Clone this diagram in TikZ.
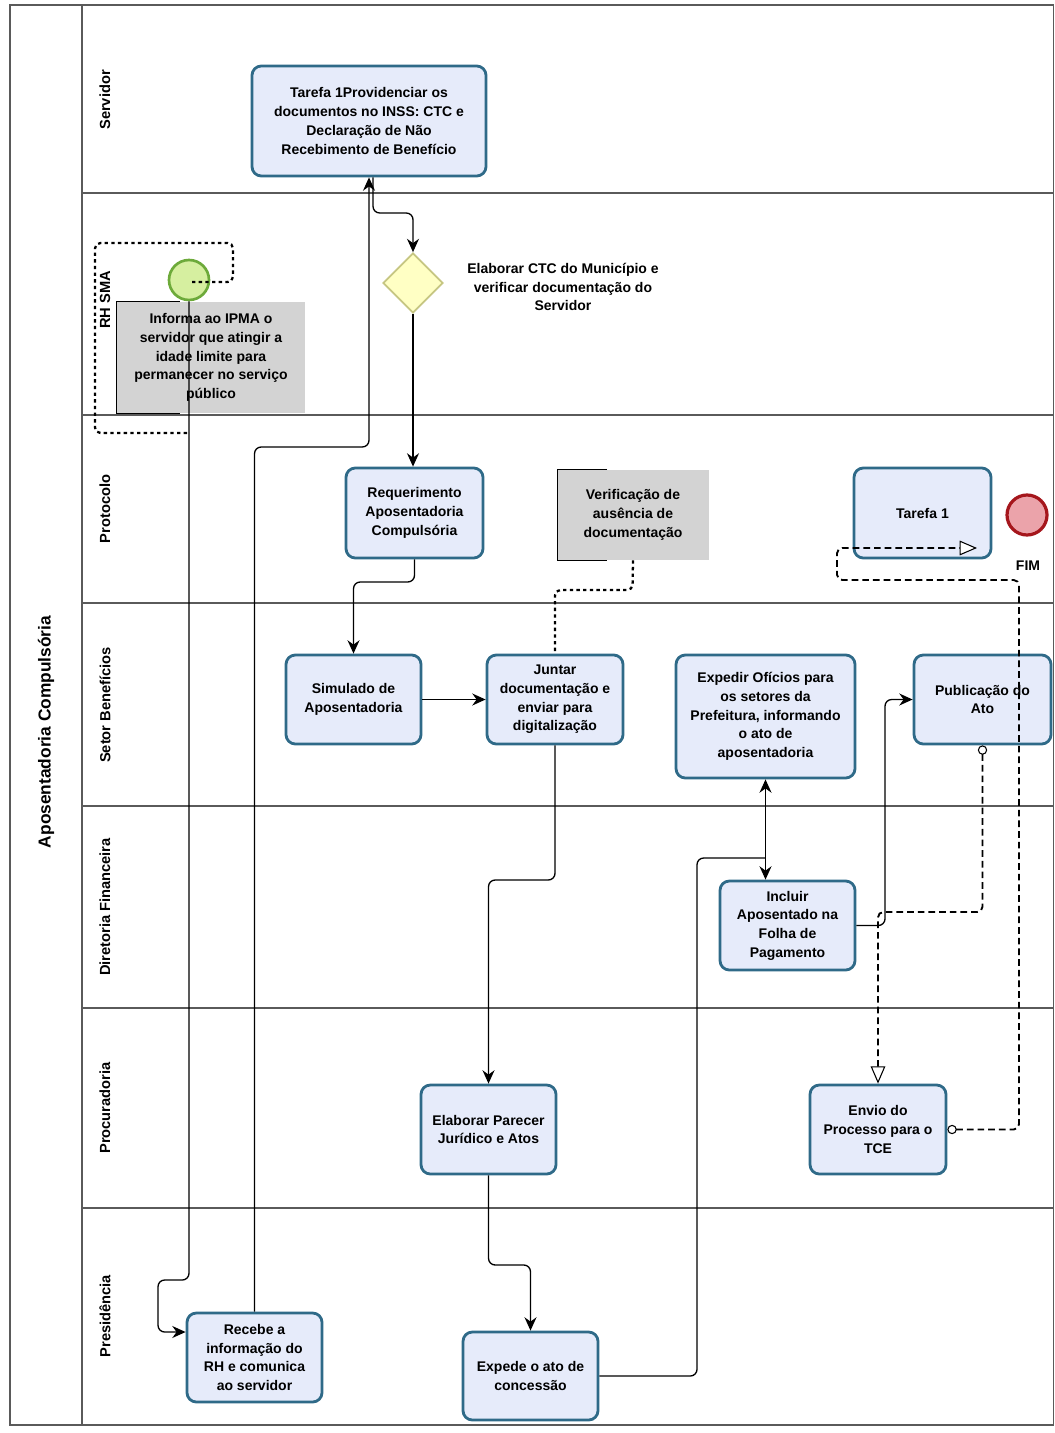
\documentclass[tikz,border=0pt]{standalone}
\usepackage{fontspec}
\setmainfont{Liberation Sans}
\usetikzlibrary{arrows.meta,shapes.geometric,calc}
\definecolor{taskfill}{HTML}{E6EBFA}
\definecolor{taskline}{HTML}{2F6A88}
\definecolor{startfill}{HTML}{D6EFA0}
\definecolor{startline}{HTML}{6DAA3A}
\definecolor{endfill}{HTML}{EBA3AA}
\definecolor{endline}{HTML}{A5161C}
\definecolor{gwfill}{HTML}{FFFFC4}
\definecolor{gwline}{HTML}{C6C682}
\definecolor{annfill}{HTML}{D3D3D3}
\definecolor{poolcol}{HTML}{5A5A5A}
\begin{document}
\begin{tikzpicture}[x=0.75pt,y=-0.75pt,
  font=\bfseries\fontsize{10.5}{14}\selectfont,
  task/.style 2 args={draw=taskline, fill=taskfill, line width=2.1pt, rounded corners=7pt,
    align=center, minimum width=#1*0.75pt, minimum height=#2*0.75pt, inner sep=2pt},
  annbox/.style 2 args={fill=annfill, align=center, minimum width=#1*0.75pt,
    minimum height=#2*0.75pt, inner sep=2pt},
  bracket/.style={draw=black, line width=1pt},
  startev/.style={circle, draw=startline, fill=startfill, line width=2pt, minimum size=30pt, inner sep=0pt},
  endev/.style={circle, draw=endline, fill=endfill, line width=2.4pt, minimum size=30pt, inner sep=0pt},
  gw/.style={diamond, aspect=1, draw=gwline, fill=gwfill, line width=1.3pt, minimum width=45pt, minimum height=45pt, inner sep=0pt},
  poolline/.style={draw=poolcol, line width=0.9pt},
  lanelabel/.style={rotate=90, font=\bfseries\fontsize{11}{13}\selectfont},
  poollabel/.style={rotate=90, font=\bfseries\fontsize{13}{15}\selectfont},
  flow/.style={draw=black, line width=1pt, rounded corners=5pt, -{Stealth[length=10pt,width=9pt]}},
  plainline/.style={draw=black, line width=1pt, rounded corners=5pt},
  msg/.style={draw=black, line width=1.4pt, dash pattern=on 5pt off 3pt, rounded corners=4pt,
    {Circle[length=7pt,width=7pt,fill=white,line width=0.8pt]}-{Triangle[open,length=13pt,width=11pt,fill=white,line width=0.8pt]}},
  assoc/.style={draw=black, line width=1.7pt, dash pattern=on 2.5pt off 2.5pt, rounded corners=4pt}
]
\useasboundingbox (0,0) rectangle (1054,1433);
\fill[white] (0,0) rectangle (1054,1433);

% pool and lanes
\draw[poolline] (10,5) rectangle (1053.5,1425);
\draw[poolline] (82,5) -- (82,1425);
\foreach \yy in {193,415,603,806,1008,1208} {\draw[poolline] (82,\yy) -- (1053.5,\yy);}

\node[poollabel] (pool) at (46,732) {Aposentadoria Compulsória};
\node[lanelabel] (lServ) at (105,100) {Servidor};
\node[lanelabel] (lRH) at (105,300) {RH SMA};
\node[lanelabel] (lProt) at (105,509) {Protocolo};
\node[lanelabel] (lBen) at (105,705) {Setor Benefícios};
\node[lanelabel] (lFin) at (105,907) {Diretoria Financeira};
\node[lanelabel] (lProc) at (105,1108) {Procuradoria};
\node[lanelabel] (lPres) at (105,1316) {Presidência};

% annotations
\node[annbox={188}{111}] (Info) at (211,357.5) {Informa ao IPMA o\\servidor que atingir a\\idade limite para\\permanecer no serviço\\público};
\draw[bracket] ($(Info.north west)+(63,0)$) -- (Info.north west) -- (Info.south west) -- ++(63,0);
\node[annbox={151}{90}] (Verif) at (633,515) {Verificação de\\ausência de\\documentação};
\draw[bracket] ($(Verif.north west)+(50,0)$) -- (Verif.north west) -- (Verif.south west) -- ++(50,0);

% events and gateway
\node[startev] (S) at (189,280) {};
\node[endev] (E) at (1027,515) {};
\node (FIM) at (1028,566) {FIM};
\node[gw] (G) at (413,283) {};
\node[align=center] (GL) at (563,287) {Elaborar CTC do Município e\\verificar documentação do\\Servidor};

% tasks
\node[task={234}{110}] (T1) at (369,121) {Tarefa 1Providenciar os\\documentos no INSS: CTC e\\Declaração de Não\\Recebimento de Benefício};
\node[task={137}{90}] (Req) at (414.5,513) {Requerimento\\Aposentadoria\\Compulsória};
\node[task={137}{90}] (T1b) at (922.5,513) {Tarefa 1};
\node[task={135}{89}] (Sim) at (353.5,699.5) {Simulado de\\Aposentadoria};
\node[task={136}{89}] (Jun) at (555,699.5) {Juntar\\documentação e\\enviar para\\digitalização};
\node[task={179}{123}] (Exp) at (765.5,716.5) {Expedir Ofícios para\\os setores da\\Prefeitura, informando\\o ato de\\aposentadoria};
\node[task={137}{89}] (Pub) at (982.5,699.5) {Publicação do\\Ato};
\node[task={135}{89}] (Inc) at (787.5,925.5) {Incluir\\Aposentado na\\Folha de\\Pagamento};
\node[task={135}{89}] (Par) at (488.5,1129.5) {Elaborar Parecer\\Jurídico e Atos};
\node[task={136}{89}] (Env) at (878,1129.5) {Envio do\\Processo para o\\TCE};
\node[task={135}{89}] (Rec) at (254.5,1357.5) {Recebe a\\informação do\\RH e comunica\\ao servidor};
\node[task={135}{88}] (Exd) at (530.5,1376) {Expede o ato de\\concessão};

% association around start event
\draw[assoc] ($(S.center)+(3,2)$) -- (233,282) -- (233,243) -- (95,243) -- (95,433) -- (190,433);

% sequence flows
\draw[flow] (S.south) -- (189,1280) -- (158,1280) -- (158,1332) -- ($(Rec.west)+(0,-25.5)$);
\draw[flow] (Rec.north) -- (254.5,447) -- (369,447) -- (T1.south);
\draw[flow] ($(T1.south)+(4,0)$) -- (373,213) -- (413,213) -- (G.north);
\draw[flow] (G.south) -- (G.south |- Req.north);
\draw[flow] (Req.south) -- (414.5,582) -- (353.5,582) -- (Sim.north);
\draw[flow] (Sim.east) -- (Jun.west);
\draw[assoc] (Verif.south) -- (632.5,590) -- (555,590) -- (Jun.north);
\draw[flow] (Jun.south) -- (555,880) -- (488.5,880) -- (Par.north);
\draw[flow] (Par.south) -- (488.5,1265) -- (530.5,1265) -- (Exd.north);
\draw[plainline] (Exd.east) -- (697,1376) -- (697,858) -- (765.5,858);
\draw[flow, {Stealth[length=10pt,width=9pt]}-{Stealth[length=10pt,width=9pt]}] (Exp.south) -- (Exp.south |- Inc.north);
\draw[flow] (Inc.east) -- (885,925.5) |- (Pub.west);

% message flows
\draw[msg] (Pub.south) -- (982.5,912) -- (878,912) -- (Env.north);
\coordinate (T1in) at (977,548);
\draw[msg] (Env.east) -- (1019,1129.5) -- (1019,580) -- (837,580) -- (837,548) -- (T1in);
\end{tikzpicture}
\end{document}
